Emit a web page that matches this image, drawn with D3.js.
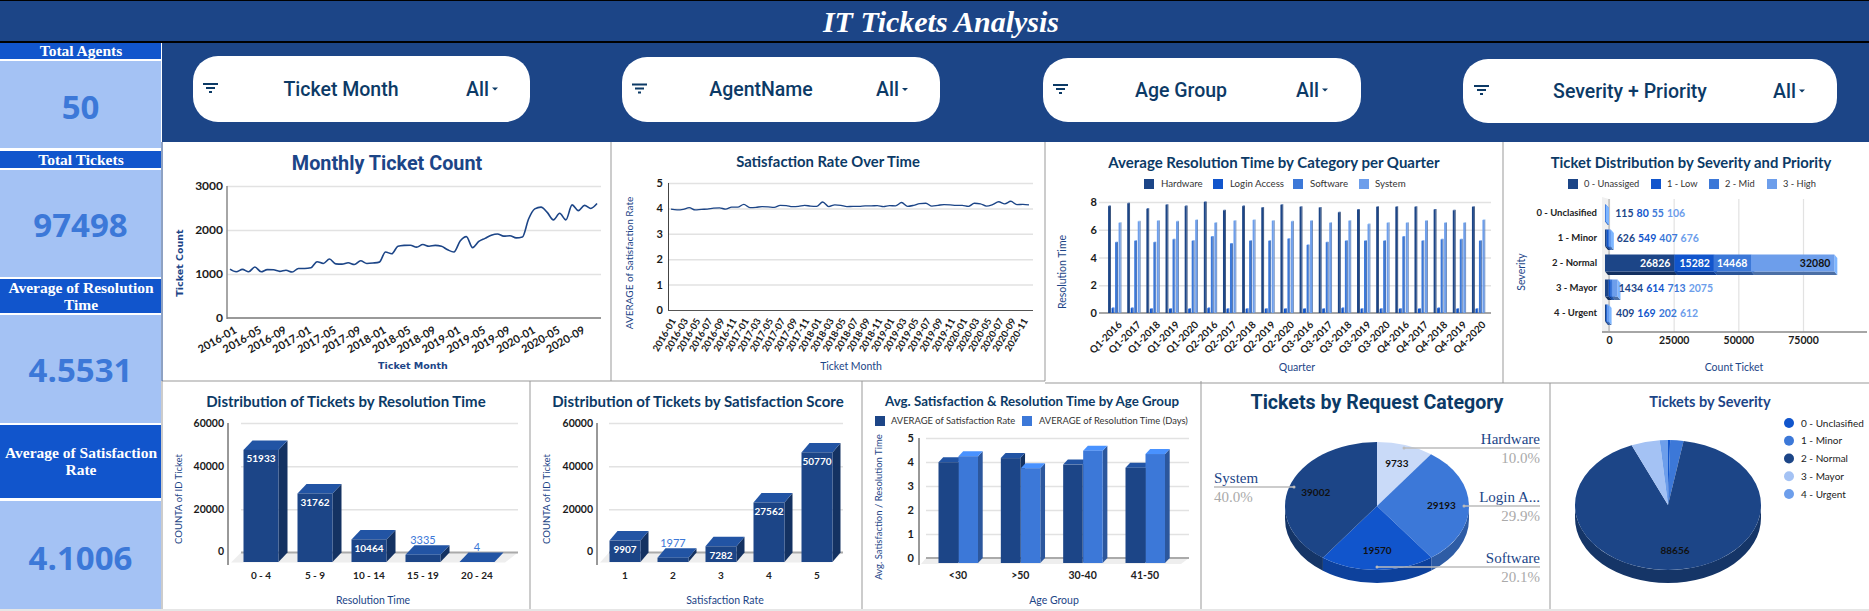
<!DOCTYPE html>
<html>
<head>
<meta charset="utf-8">
<title>IT Tickets Analysis</title>
<script src="https://cdn.jsdelivr.net/npm/d3@7"></script>
<style>
  html, body { margin: 0; padding: 0; background: #fff; overflow: hidden; }
  svg { display: block; }
  .axis .domain { display: none; }
</style>
</head>
<body>
<svg width="1869" height="611"></svg>
<script>
const NAVY = "#1c4587";
const ROYAL = "#1155cc";
const MID = "#3c78d8";
const SKY = "#6d9eeb";
const PALE = "#a4c2f4";
const ICE = "#c9daf8";
const INK = "#0c3a66";
const LATO = "Lato, sans-serif";
const ROBOTO = "Roboto, sans-serif";
const SERIF = "'Liberation Serif', serif";
const DEJAVU = "'DejaVu Sans', sans-serif";

const kpiTitles = [["Total Agents"], ["Total Tickets"], ["Average of Resolution", "Time"], ["Average of Satisfaction", "Rate"]];
const kpiValues = ["50", "97498", "4.5531", "4.1006"];
const filterNames = ["Ticket Month", "AgentName", "Age Group", "Severity + Priority"];

const months = [];
for (let yr = 2016; yr <= 2020; yr++) {
  for (let m = 1; m <= 12; m++) months.push(yr + "-" + String(m).padStart(2, "0"));
}
const monthlyTickets = [
  1110, 1050, 1105, 1050, 1160, 1050, 1100, 1095, 1060, 1085, 1045, 1125,
  1125, 1140, 1280, 1240, 1340, 1230, 1225, 1255, 1215, 1300, 1240, 1250,
  1270, 1500, 1460, 1630, 1650, 1655, 1610, 1670, 1630, 1650, 1630, 1550,
  1500, 1750, 1850, 1600, 1740, 1810, 1880, 1910, 1860, 1870, 1820, 1840,
  2250, 2480, 2520, 2400, 2230, 2380, 2230, 2570, 2440, 2560, 2490, 2600
];
const monthlySatisfaction = [
  3.97, 3.94, 3.96, 4.03, 3.94, 3.96, 3.97, 4.01, 4.02, 3.97, 4.05, 4.05,
  4.16, 4.03, 4.04, 4.07, 4.06, 4.04, 4.12, 4.11, 4.07, 4.08, 4.12, 4.09,
  4.08, 4.25, 4.07, 4.14, 4.12, 4.07, 4.08, 4.08, 4.10, 4.10, 4.11, 4.07,
  4.11, 4.10, 4.23, 4.08, 4.12, 4.19, 4.20, 4.09, 4.12, 4.15, 4.14, 4.12,
  4.12, 4.08, 4.20, 4.18, 4.09, 4.15, 4.26, 4.18, 4.28, 4.15, 4.16, 4.14
];

const quarters = [
  "Q1-2016", "Q1-2017", "Q1-2018", "Q1-2019", "Q1-2020",
  "Q2-2016", "Q2-2017", "Q2-2018", "Q2-2019", "Q2-2020",
  "Q3-2016", "Q3-2017", "Q3-2018", "Q3-2019", "Q3-2020",
  "Q4-2016", "Q4-2017", "Q4-2018", "Q4-2019", "Q4-2020"
];
const categoryNames = ["Hardware", "Login Access", "Software", "System"];
const hardwareTime = [7.7, 7.9, 7.5, 7.8, 7.7, 8.0, 7.4, 7.7, 7.6, 7.8, 7.65, 7.6, 7.25, 7.45, 7.65, 7.65, 7.65, 7.45, 7.4, 7.65];
const loginTime = [0.35, 0.35, 0.3, 0.3, 0.3, 0.35, 0.3, 0.3, 0.3, 0.3, 0.3, 0.3, 0.35, 0.3, 0.3, 0.3, 0.3, 0.35, 0.3, 0.3];
const softwareTime = [5.1, 5.2, 5.1, 5.3, 5.2, 5.5, 5.0, 5.2, 5.2, 5.35, 4.9, 5.1, 5.2, 5.2, 5.2, 5.5, 5.2, 5.3, 5.3, 5.2];
const systemTime = [6.5, 6.6, 6.65, 6.6, 6.7, 6.5, 6.65, 6.7, 6.65, 6.6, 6.65, 6.5, 6.65, 6.4, 6.5, 6.5, 6.65, 6.5, 6.5, 6.7];

const severities = ["0 - Unclasified", "1 - Minor", "2 - Normal", "3 - Mayor", "4 - Urgent"];
const priorities = ["0 - Unassiged", "1 - Low", "2 - Mid", "3 - High"];
const unassignedCounts = [115, 626, 26826, 1434, 409];
const lowCounts = [80, 549, 15282, 614, 169];
const midCounts = [55, 407, 14468, 713, 202];
const highCounts = [106, 676, 32080, 2075, 612];

const resolutionBins = ["0 - 4", "5 - 9", "10 - 14", "15 - 19", "20 - 24"];
const resolutionCounts = [51933, 31762, 10464, 3335, 4];
const satisfactionBins = ["1", "2", "3", "4", "5"];
const satisfactionCounts = [9907, 1977, 7282, 27562, 50770];

const ageGroups = ["<30", ">50", "30-40", "41-50"];
const ageSatisfaction = [4.2, 4.37, 4.1, 3.97];
const ageResolution = [4.45, 3.95, 4.68, 4.54];

const requestNames = ["Hardware", "Login A...", "Software", "System"];
const requestCounts = [9733, 29193, 19570, 39002];
const requestShares = ["10.0%", "29.9%", "20.1%", "40.0%"];
const severityCounts = [356, 2258, 88656, 4836, 1392];

const svg = d3.select("svg");

function label(parent, str, x, y, size, opts = {}) {
  return parent.append("text")
    .attr("x", x).attr("y", y)
    .attr("dy", "0.35em")
    .attr("text-anchor", opts.anchor || "middle")
    .attr("font-family", opts.family || LATO)
    .attr("font-size", size)
    .attr("font-weight", opts.weight || 400)
    .attr("font-style", opts.style || "normal")
    .attr("fill", opts.fill || NAVY)
    .text(str);
}

function yTitle(str, x, y, size, opts = {}) {
  return label(svg, str, 0, 0, size, opts).attr("transform", `translate(${x},${y}) rotate(-90)`);
}

// horizontal grid plus tick labels
function yAxis(y, ticks, gridLeft, gridRight, textRight, opts = {}) {
  const g = svg.append("g").attr("class", "axis").attr("transform", `translate(${gridLeft},0)`)
    .call(d3.axisLeft(y).tickValues(ticks).tickFormat(d3.format("d")).tickSize(gridLeft - gridRight));
  g.selectAll(".tick line").attr("stroke", "#e2e2e2").attr("stroke-width", opts.grid || 1.5);
  g.selectAll(".tick text")
    .attr("font-family", opts.family || LATO).attr("font-size", opts.size || 11)
    .attr("font-weight", 700).attr("fill", "#1a1a1a")
    .attr("text-anchor", "end")
    .attr("x", textRight - gridLeft);
  return g;
}

function axisLine(x1, y1, x2, y2, color, w) {
  svg.append("line").attr("x1", x1).attr("y1", y1).attr("x2", x2).attr("y2", y2)
    .attr("stroke", color).attr("stroke-width", w);
}

function xAxisRotated(x, ticks, y0, angle, opts = {}) {
  const g = svg.append("g").attr("class", "axis").attr("transform", `translate(0,${y0})`)
    .call(d3.axisBottom(x).tickValues(ticks).tickSize(0));
  g.selectAll(".tick text")
    .attr("font-family", opts.family || LATO).attr("font-size", opts.size || 10)
    .attr("font-weight", opts.weight || 700).attr("fill", "#1a1a1a")
    .attr("text-anchor", "end").attr("y", 0).attr("dy", "0.35em")
    .attr("transform", `translate(${opts.shift || 2},${opts.drop || 6}) rotate(${angle})`);
}

function legendSquares(names, colors, xs, xText, y, size) {
  names.forEach((n, i) => {
    svg.append("rect").attr("x", xs[i]).attr("y", y - 5).attr("width", 10).attr("height", 10).attr("fill", colors[i]);
    label(svg, n, xText[i], y, size, { anchor: "start", fill: "#333" });
  });
}

function polygon(parent, pts, fill) {
  parent.append("polygon").attr("points", pts.map(p => p.join(",")).join(" ")).attr("fill", fill);
}

// box with a front face, lit top and shaded side
function box(parent, x, top, w, bottom, dx, dy, color) {
  const base = d3.color(color);
  polygon(parent, [[x + w, top], [x + w + dx, top - dy], [x + w + dx, bottom - dy], [x + w, bottom]], base.darker(0.9).formatHex());
  polygon(parent, [[x, top], [x + dx, top - dy], [x + w + dx, top - dy], [x + w, top]], base.brighter(0.55).formatHex());
  parent.append("rect").attr("x", x).attr("y", top).attr("width", w).attr("height", bottom - top).attr("fill", color);
}

function floor(leftBack, rightBack, leftFront, rightFront, yBack, yFront) {
  polygon(svg, [[leftBack, yBack], [rightBack, yBack], [rightFront, yFront], [leftFront, yFront]], "#eeeeee");
}

// ---- frame ----
svg.append("rect").attr("width", 1869).attr("height", 611).attr("fill", "#fff");
svg.append("rect").attr("width", 1869).attr("height", 42).attr("fill", NAVY);
axisLine(0, 0.5, 1869, 0.5, "#000", 1);
axisLine(0, 42, 1869, 42, "#000", 2);
label(svg, "IT Tickets Analysis", 941, 21, 30, { family: SERIF, weight: 700, style: "italic", fill: "#fff" });
svg.append("rect").attr("x", 162).attr("y", 43).attr("width", 1707).attr("height", 99).attr("fill", NAVY);

const kpiBands = [[43, 59, 61, 148], [151, 168, 170, 277], [279, 313, 315, 423], [425, 498, 501, 609]];
const kpiCenters = [107, 225, 370, 558];
kpiBands.forEach(([h0, h1, p0, p1], i) => {
  svg.append("rect").attr("x", 0).attr("y", h0).attr("width", 161).attr("height", h1 - h0).attr("fill", ROYAL);
  svg.append("rect").attr("x", 0).attr("y", p0).attr("width", 161).attr("height", p1 - p0).attr("fill", PALE);
  const lines = kpiTitles[i];
  const mid = (h0 + h1) / 2;
  lines.forEach((t, j) => {
    label(svg, t, 81, mid + (j - (lines.length - 1) / 2) * 17, 15.5, { family: SERIF, weight: 700, fill: "#fff" });
  });
  label(svg, kpiValues[i], 80.5, kpiCenters[i], 33, { weight: 700, fill: MID, family: "'Open Sans', sans-serif" });
});

const filterBoxes = [
  { x0: 193, x1: 530, y0: 56, y1: 122, icon: 203, text: 341, all: 466 },
  { x0: 622, x1: 940, y0: 57, y1: 122, icon: 632, text: 761, all: 876 },
  { x0: 1043, x1: 1361, y0: 58, y1: 122, icon: 1053, text: 1181, all: 1296 },
  { x0: 1463, x1: 1837, y0: 59, y1: 123, icon: 1474, text: 1630, all: 1773 }
];
filterBoxes.forEach((f, i) => {
  const cy = (f.y0 + f.y1) / 2;
  svg.append("rect").attr("x", f.x0).attr("y", f.y0).attr("width", f.x1 - f.x0).attr("height", f.y1 - f.y0)
    .attr("rx", 25).attr("fill", "#fff");
  [[0, 15], [3, 9], [6, 3]].forEach(([inset, w], k) => {
    svg.append("rect").attr("x", f.icon + inset).attr("y", cy - 6 + k * 4).attr("width", w).attr("height", 2).attr("fill", INK);
  });
  label(svg, filterNames[i], f.text, cy, 19.5, { family: ROBOTO, weight: 500, fill: INK });
  label(svg, "All", f.all, cy, 19.5, { family: ROBOTO, weight: 500, fill: INK, anchor: "start" });
  polygon(svg, [[f.all + 26, cy - 1.5], [f.all + 32, cy - 1.5], [f.all + 29, cy + 1.5]], INK);
});

// ---- cell borders ----
[[611, 142, 611, 381], [1045, 142, 1045, 381], [1503, 142, 1503, 383],
 [530, 381, 530, 609], [862, 381, 862, 609], [1201, 381, 1201, 609], [1550, 383, 1550, 609],
 [162, 381, 1045, 381], [1045, 383, 1869, 383], [162, 381, 162, 609]].forEach(l => {
  axisLine(l[0], l[1], l[2], l[3], "#999", 1);
});
axisLine(162, 142, 162, 381, NAVY, 1);
svg.append("rect").attr("x", 0).attr("y", 609).attr("width", 1869).attr("height", 2).attr("fill", "#e6e6e6");

// ---- Monthly Ticket Count ----
label(svg, "Monthly Ticket Count", 387, 163, 19.8, { family: ROBOTO, weight: 700 });
const yTickets = d3.scaleLinear().domain([0, 3000]).range([318, 186]);
const xTickets = d3.scalePoint().domain(months).range([230, 597]);
yAxis(yTickets, [1000, 2000, 3000], 227, 601, 223, { size: 12 });
label(svg, "0", 223, yTickets(0), 12, { anchor: "end", weight: 700, fill: "#1a1a1a" });
axisLine(227, 186, 227, 319, "#888", 1.5);
axisLine(227, 318, 601, 318, "#777", 1.5);
xAxisRotated(xTickets, months.filter((m, i) => i % 4 === 0), 318, -30, { size: 11, drop: 11, shift: 5 });
svg.append("path").datum(monthlyTickets)
  .attr("fill", "none").attr("stroke", NAVY).attr("stroke-width", 1.6)
  .attr("d", d3.line().x((d, i) => xTickets(months[i])).y(d => yTickets(d)).curve(d3.curveMonotoneX));
yTitle("Ticket Count", 180, 263, 9.5, { weight: 700, family: DEJAVU });
label(svg, "Ticket Month", 413, 366, 9.5, { weight: 700, family: DEJAVU });

// ---- Satisfaction Rate Over Time ----
label(svg, "Satisfaction Rate Over Time", 828, 162, 14.8, { weight: 700, fill: INK });
const ySat = d3.scaleLinear().domain([0, 5]).range([310, 183]);
const xSat = d3.scalePoint().domain(months).range([671, 1029]);
yAxis(ySat, [1, 2, 3, 4, 5], 668, 1033, 663, { size: 11 });
label(svg, "0", 663, ySat(0), 11, { anchor: "end", weight: 700, fill: "#1a1a1a" });
axisLine(668.5, 183, 668.5, 311, "#444", 1);
axisLine(668, 310.5, 1033, 310.5, "#555", 1);
xAxisRotated(xSat, months.filter((m, i) => i % 2 === 0), 310, -60, { size: 9.5, drop: 9 });
svg.append("path").datum(monthlySatisfaction)
  .attr("fill", "none").attr("stroke", NAVY).attr("stroke-width", 1.4)
  .attr("d", d3.line().x((d, i) => xSat(months[i])).y(d => ySat(d)).curve(d3.curveMonotoneX));
yTitle("AVERAGE of Satisfaction Rate", 629, 263, 10);
label(svg, "Ticket Month", 851, 366, 10.5);

// ---- Average Resolution Time by Category per Quarter ----
label(svg, "Average Resolution Time by Category per Quarter", 1274, 163, 15, { weight: 700, fill: INK });
const seriesColors = [NAVY, ROYAL, MID, SKY];
legendSquares(categoryNames, seriesColors, [1144, 1213, 1293, 1359], [1161, 1230, 1310, 1375], 184, 9.7);
const yTime = d3.scaleLinear().domain([0, 8]).range([313, 202]);
const xQuarter = d3.scaleBand().domain(quarters).range([1104.5, 1487.5]);
const xSeries = d3.scaleBand().domain(categoryNames).range([-6, 8]);
yAxis(yTime, [2, 4, 6, 8], 1099, 1491, 1097, { size: 11 });
label(svg, "0", 1097, yTime(0), 11, { anchor: "end", weight: 700, fill: "#1a1a1a" });
axisLine(1099, 313, 1491, 313, "#888", 1.5);
const timeSeries = [hardwareTime, loginTime, softwareTime, systemTime];
const timeLayer = svg.append("g");
quarters.forEach((q, i) => {
  const cx = xQuarter(q) + xQuarter.bandwidth() / 2;
  categoryNames.forEach((c, k) => {
    box(timeLayer, cx + xSeries(c), yTime(timeSeries[k][i]), 2, 313, 0.8, 0.6, seriesColors[k]);
  });
});
const quarterAxis = svg.append("g").attr("class", "axis").attr("transform", "translate(0,313)")
  .call(d3.axisBottom(xQuarter).tickSize(0));
quarterAxis.selectAll(".tick text")
  .attr("font-family", LATO).attr("font-size", 10).attr("font-weight", 700).attr("fill", "#1a1a1a")
  .attr("text-anchor", "end").attr("y", 0).attr("dy", "0.35em")
  .attr("transform", "translate(6,10) rotate(-45)");
yTitle("Resolution Time", 1062, 272, 10.5);
label(svg, "Quarter", 1297, 367, 10.5);

// ---- Ticket Distribution by Severity and Priority ----
label(svg, "Ticket Distribution by Severity and Priority", 1691, 163, 14.8, { weight: 700, fill: INK });
legendSquares(priorities, seriesColors, [1568, 1651, 1709, 1767], [1584, 1667, 1725, 1783], 184, 9.3);
const xCount = d3.scaleLinear().domain([0, 75000]).range([1609, 1803]);
const ySeverity = d3.scalePoint().domain(severities).range([213, 313]);
polygon(svg, [[1602, 197], [1609, 199], [1609, 332], [1602, 332]], "#f0f0f0");
const countAxis = svg.append("g").attr("class", "axis").attr("transform", "translate(0,332)")
  .call(d3.axisBottom(xCount).tickValues([0, 25000, 50000, 75000]).tickFormat(d3.format("d")).tickSize(-133).tickPadding(5));
countAxis.selectAll(".tick line").attr("stroke", "#e2e2e2").attr("stroke-width", 1.2);
countAxis.selectAll(".tick text").attr("font-family", LATO).attr("font-size", 10.5).attr("font-weight", 700).attr("fill", "#1a1a1a");
axisLine(1602, 332, 1867, 332, "#888", 1.5);
axisLine(1609, 199, 1609, 332, "#aaa", 1);
const priorityCounts = [unassignedCounts, lowCounts, midCounts, highCounts];
const stackLayer = svg.append("g");
severities.forEach((s, r) => {
  const cy = ySeverity(s);
  const top = cy - 8.5;
  const bottom = cy + 8.5;
  let cum = 0;
  const total = d3.sum(priorityCounts, c => c[r]);
  priorityCounts.forEach((c, k) => {
    const x0 = xCount(cum) - 4;
    const x1 = xCount(cum + c[r]) - 4;
    polygon(stackLayer, [[x0, bottom], [x1, bottom], [x1 + 3, bottom + 3.5], [x0 + 3, bottom + 3.5]], d3.color(seriesColors[k]).darker(1).formatHex());
    polygon(stackLayer, [[x1, top], [x1 + 3, top + 3.5], [x1 + 3, bottom + 3.5], [x1, bottom]], d3.color(seriesColors[k]).brighter(0.4).formatHex());
    stackLayer.append("rect").attr("x", x0).attr("y", top).attr("width", x1 - x0).attr("height", bottom - top).attr("fill", seriesColors[k]);
    cum += c[r];
  });
  label(svg, s, 1597, cy, 9.5, { anchor: "end", weight: 700, fill: "#222" });
  if (total > 20000) {
    cum = 0;
    priorityCounts.forEach((c, k) => {
      cum += c[r];
      label(svg, c[r], xCount(cum) - 8, cy, 10.5, { anchor: "end", weight: 700, fill: k === 3 ? "#111" : "#fff" });
    });
  } else {
    let x = xCount(0) + 6 + (xCount(total) - xCount(0)) * 0.3;
    priorityCounts.forEach((c, k) => {
      const t = label(svg, c[r], x, cy, 10.5, { anchor: "start", weight: 700, fill: seriesColors[k] });
      x += t.node().getComputedTextLength() + 3;
    });
  }
});
yTitle("Severity", 1521, 272, 10.5);
label(svg, "Count Ticket", 1734, 367, 10.5);

// ---- two count column charts ----
function countColumns(cfg) {
  label(svg, cfg.title, cfg.titleX, 402, 15, { weight: 700, fill: INK });
  const y = d3.scaleLinear().domain([0, 60000]).range([552.5, 423]);
  const x = d3.scalePoint().domain(cfg.bins).range(cfg.range);
  floor(cfg.gridL, cfg.gridR, cfg.axisX + 3, cfg.gridR - 13, y(0), y(0) + 10);
  yAxis(y, [20000, 40000, 60000], cfg.gridL, cfg.gridR, cfg.axisX - 4, { size: 10.5 });
  label(svg, "0", cfg.axisX - 4, y(0) - 1, 10.5, { anchor: "end", weight: 700, fill: "#1a1a1a" });
  axisLine(cfg.gridL, y(0), cfg.gridR, y(0), "#aaa", 2);
  axisLine(cfg.axisX, 423, cfg.axisX, 565, "#333", 1);
  const layer = svg.append("g");
  cfg.counts.forEach((v, i) => {
    const cx = x(cfg.bins[i]);
    const top = y(v) + cfg.dy;
    box(layer, cx - cfg.width / 2, top, cfg.width, y(0) + cfg.dy, cfg.dx, cfg.dy, NAVY);
    if (v > 5000) label(svg, v, cx, top + 9, 10, { weight: 700, fill: "#fff" });
    else label(svg, v, cx, top - 15, 11, { fill: MID });
    label(svg, cfg.bins[i], cx, 575, 10, { weight: 700, fill: "#222" });
  });
  yTitle("COUNTA of ID Ticket", cfg.yTitleX, 499, 9.5);
  label(svg, cfg.xTitle, cfg.xTitleX, 600, 10.5);
}

countColumns({
  title: "Distribution of Tickets by Resolution Time", titleX: 346,
  bins: resolutionBins, counts: resolutionCounts, range: [261, 477],
  axisX: 228, gridL: 241, gridR: 518, width: 35, dx: 9, dy: 9.5,
  yTitleX: 179, xTitle: "Resolution Time", xTitleX: 373
});
countColumns({
  title: "Distribution of Tickets by Satisfaction Score", titleX: 698,
  bins: satisfactionBins, counts: satisfactionCounts, range: [625, 817],
  axisX: 597, gridL: 609, gridR: 843, width: 31, dx: 8, dy: 9.5,
  yTitleX: 547, xTitle: "Satisfaction Rate", xTitleX: 725
});

// ---- Avg. Satisfaction & Resolution Time by Age Group ----
label(svg, "Avg. Satisfaction & Resolution Time by Age Group", 1032, 401, 13.3, { weight: 700, fill: INK });
legendSquares(["AVERAGE of Satisfaction Rate", "AVERAGE of Resolution Time (Days)"], [NAVY, MID], [875, 1022], [891, 1039], 421, 9.4);
const yAge = d3.scaleLinear().domain([0, 5]).range([558, 438]);
const xAge = d3.scalePoint().domain(ageGroups).range([958, 1145]);
floor(926, 1189, 921, 1181, 558, 564);
yAxis(yAge, [1, 2, 3, 4, 5], 926, 1189, 914, { size: 11 });
label(svg, "0", 914, yAge(0), 11, { anchor: "end", weight: 700, fill: "#1a1a1a" });
axisLine(926, 558, 1189, 558, "#aaa", 2);
axisLine(919, 438, 919, 565, "#333", 1);
const ageLayer = svg.append("g");
ageGroups.forEach((a, i) => {
  const cx = xAge(a);
  box(ageLayer, cx - 19.5, yAge(ageSatisfaction[i]) + 5, 19.5, 563, 4.7, 5, NAVY);
  box(ageLayer, cx + 0.5, yAge(ageResolution[i]) + 5, 19.5, 563, 4.7, 5, MID);
  label(svg, a, cx, 575, 10.5, { weight: 700, fill: "#222" });
});
yTitle("Avg. Satisfaction / Resolution Time", 879, 507, 9.5);
label(svg, "Age Group", 1054, 600, 10.5);

// ---- 3D pies ----
function pie3d(values, colors, cx, cy, rx, ry, depth) {
  const arcs = d3.pie().sort(null)(values);
  const point = (a, dy) => [cx + rx * Math.sin(a), cy - ry * Math.cos(a) + dy];
  const g = svg.append("g");
  arcs.forEach((d, i) => {
    const s = Math.max(d.startAngle, Math.PI / 2);
    const e = Math.min(d.endAngle, Math.PI * 1.5);
    if (s >= e) return;
    const [x0, y0] = point(s, 0);
    const [x1, y1] = point(e, 0);
    const [x2, y2] = point(e, depth);
    const [x3, y3] = point(s, depth);
    g.append("path")
      .attr("d", `M${x0},${y0}A${rx},${ry} 0 0 1 ${x1},${y1}L${x2},${y2}A${rx},${ry} 0 0 0 ${x3},${y3}Z`)
      .attr("fill", d3.color(colors[i]).darker(0.75).formatHex());
  });
  const arc = d3.arc().innerRadius(0).outerRadius(rx);
  const top = g.append("g").attr("transform", `translate(${cx},${cy}) scale(1,${ry / rx})`);
  arcs.forEach((d, i) => {
    top.append("path").attr("d", arc(d)).attr("fill", colors[i]);
  });
  return { arcs, point };
}

function pieLabel(arcData, value, point, frac) {
  const mid = (arcData.startAngle + arcData.endAngle) / 2;
  const cx = (point(0, 0)[0]);
  const cy = (point(0, 0)[1] + point(Math.PI, 0)[1]) / 2;
  const [px, py] = point(mid, 0);
  label(svg, value, cx + (px - cx) * frac, cy + (py - cy) * frac, 10, { weight: 700, fill: "#111" });
}

label(svg, "Tickets by Request Category", 1377, 402, 19.6, { family: ROBOTO, weight: 700, fill: INK });
const requestPie = pie3d(requestCounts, [ICE, MID, ROYAL, NAVY], 1377, 506, 92, 64, 13);
requestPie.arcs.forEach((d, i) => pieLabel(d, requestCounts[i], requestPie.point, 0.7));
const leaderLines = [
  { x0: 1404, x1: 1540, y: 448, end: 1540, anchor: "end", dot: 1404 },
  { x0: 1464, x1: 1540, y: 506, end: 1540, anchor: "end", dot: 1464 },
  { x0: 1377, x1: 1540, y: 567, end: 1540, anchor: "end", dot: 1377 },
  { x0: 1214, x1: 1294, y: 487, end: 1214, anchor: "start", dot: 1294 }
];
leaderLines.forEach((l, i) => {
  axisLine(l.x0, l.y, l.x1, l.y, "#bbb", 1.5);
  svg.append("circle").attr("cx", l.dot).attr("cy", l.y).attr("r", 1.5).attr("fill", "#bbb");
  label(svg, requestNames[i], l.end, l.y - 9, 15, { family: SERIF, anchor: l.anchor });
  label(svg, requestShares[i], l.end, l.y + 9.5, 15, { family: SERIF, anchor: l.anchor, fill: "#aaa" });
});

label(svg, "Tickets by Severity", 1710, 402, 14.5, { weight: 700 });
const severityColors = [ROYAL, MID, NAVY, PALE, SKY];
const severityPie = pie3d(severityCounts, severityColors, 1668, 505, 93, 65, 13);
label(svg, severityCounts[2], 1675, 550, 10, { weight: 700, fill: "#111" });
const yLegend = d3.scalePoint().domain(severities).range([423, 494]);
severities.forEach((s, i) => {
  svg.append("circle").attr("cx", 1789).attr("cy", yLegend(s)).attr("r", 5).attr("fill", severityColors[i]);
  label(svg, s, 1801, yLegend(s), 10, { anchor: "start", fill: "#222" });
});
</script>
</body>
</html>
